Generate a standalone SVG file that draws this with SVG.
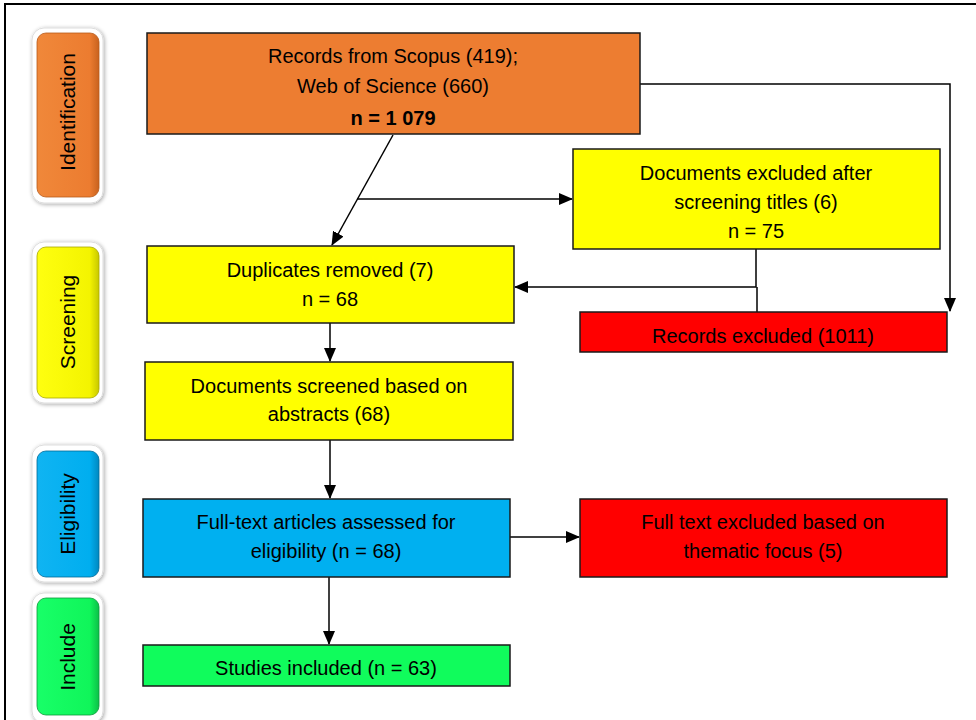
<svg xmlns="http://www.w3.org/2000/svg" width="976" height="720" viewBox="0 0 976 720">
<style>
.t{font-family:"Liberation Sans",Arial,sans-serif;font-size:20px;fill:#000;text-anchor:middle;dominant-baseline:central}
.p{font-size:21px}
.b{stroke:#1a1a1a;stroke-width:1.5}
.c{stroke:#000;stroke-width:1.5;fill:none}
.ph{fill:#fff;stroke:#ddd;stroke-width:1}
</style>
<defs>
<marker id="ah" markerWidth="14" markerHeight="12" refX="13" refY="6" orient="auto" markerUnits="userSpaceOnUse">
<path d="M0,0 L14,6 L0,12 z" fill="#000"/>
</marker>
<filter id="sh" x="-20%" y="-20%" width="140%" height="140%">
<feGaussianBlur in="SourceAlpha" stdDeviation="2"/>
<feOffset dx="1" dy="1" result="o"/>
<feComponentTransfer><feFuncA type="linear" slope="0.35"/></feComponentTransfer>
<feMerge><feMergeNode/><feMergeNode in="SourceGraphic"/></feMerge>
</filter>
<linearGradient id="go" x1="0" x2="1" y1="0" y2="0"><stop offset="0" stop-color="#f0883a"/><stop offset="0.85" stop-color="#ec7c30"/><stop offset="1" stop-color="#c8621e"/></linearGradient>
<linearGradient id="gy" x1="0" x2="1" y1="0" y2="0"><stop offset="0" stop-color="#ffff10"/><stop offset="0.85" stop-color="#f4f400"/><stop offset="1" stop-color="#c8c800"/></linearGradient>
<linearGradient id="gb" x1="0" x2="1" y1="0" y2="0"><stop offset="0" stop-color="#10b4f2"/><stop offset="0.85" stop-color="#00aeef"/><stop offset="1" stop-color="#0088c0"/></linearGradient>
<linearGradient id="gg" x1="0" x2="1" y1="0" y2="0"><stop offset="0" stop-color="#18ff68"/><stop offset="0.85" stop-color="#10f55a"/><stop offset="1" stop-color="#0cc048"/></linearGradient>
</defs>
<rect width="976" height="720" fill="#fff"/>
<rect x="5" y="4" width="990" height="730" fill="none" stroke="#000" stroke-width="2"/>

<g id="phase-identification">
<rect class="ph" x="32" y="28" width="71" height="175" rx="12" filter="url(#sh)"/>
<rect x="37" y="33" width="62" height="164" rx="9" fill="url(#go)" stroke="#b85a1a" stroke-width="0.8"/>
<text class="t p" transform="translate(67,112) rotate(-90)">Identification</text>
</g>
<g id="phase-screening">
<rect class="ph" x="32" y="242" width="71" height="161" rx="12" filter="url(#sh)"/>
<rect x="37" y="247" width="62" height="151" rx="9" fill="url(#gy)" stroke="#a8a800" stroke-width="0.8"/>
<text class="t p" transform="translate(67,322) rotate(-90)">Screening</text>
</g>
<g id="phase-eligibility">
<rect class="ph" x="32" y="445" width="71" height="137" rx="12" filter="url(#sh)"/>
<rect x="37" y="451" width="62" height="126" rx="9" fill="url(#gb)" stroke="#006a98" stroke-width="0.8"/>
<text class="t p" transform="translate(67,514) rotate(-90)">Eligibility</text>
</g>
<g id="phase-include">
<rect class="ph" x="32" y="593" width="71" height="130" rx="12" filter="url(#sh)"/>
<rect x="37" y="598" width="62" height="117" rx="9" fill="url(#gg)" stroke="#0a9a3a" stroke-width="0.8"/>
<text class="t p" transform="translate(67,657) rotate(-90)">Include</text>
</g>

<g id="connectors">
<line class="c" x1="393" y1="135" x2="332" y2="245" marker-end="url(#ah)"/>
<line class="c" x1="357" y1="199" x2="572" y2="199" marker-end="url(#ah)"/>
<polyline class="c" points="640,84 950,84 950,311" marker-end="url(#ah)"/>
<polyline class="c" points="756,249 756,287 515,287" marker-end="url(#ah)"/>
<line class="c" x1="757" y1="287" x2="757" y2="312"/>
<line class="c" x1="330" y1="323" x2="330" y2="361" marker-end="url(#ah)"/>
<line class="c" x1="330" y1="440" x2="330" y2="498" marker-end="url(#ah)"/>
<line class="c" x1="510" y1="537" x2="579" y2="537" marker-end="url(#ah)"/>
<line class="c" x1="329" y1="577" x2="329" y2="644" marker-end="url(#ah)"/>
</g>

<g id="records">
<rect class="b" x="147" y="33" width="493" height="101" fill="#ed7d31"/>
<text class="t" x="393" y="56">Records from Scopus (419);</text>
<text class="t" x="393" y="86">Web of Science (660)</text>
<text class="t" x="393" y="118" font-weight="bold">n = 1 079</text>
</g>
<g id="excluded-titles">
<rect class="b" x="573" y="149" width="367" height="100" fill="#ffff00"/>
<text class="t" x="756" y="173">Documents excluded after</text>
<text class="t" x="756" y="202">screening titles (6)</text>
<text class="t" x="756" y="231">n = 75</text>
</g>
<g id="duplicates">
<rect class="b" x="147" y="246" width="367" height="77" fill="#ffff00"/>
<text class="t" x="330" y="270">Duplicates removed (7)</text>
<text class="t" x="330" y="299">n = 68</text>
</g>
<g id="records-excluded">
<rect class="b" x="580" y="312" width="367" height="40" fill="#ff0000"/>
<text class="t" x="763" y="336">Records excluded (1011)</text>
</g>
<g id="screened">
<rect class="b" x="145" y="362" width="368" height="78" fill="#ffff00"/>
<text class="t" x="329" y="386">Documents screened based on</text>
<text class="t" x="329" y="414">abstracts (68)</text>
</g>
<g id="fulltext">
<rect class="b" x="143" y="499" width="367" height="78" fill="#00b0f0"/>
<text class="t" x="326" y="522">Full-text articles assessed for</text>
<text class="t" x="326" y="551">eligibility (n = 68)</text>
</g>
<g id="fulltext-excluded">
<rect class="b" x="580" y="499" width="367" height="78" fill="#ff0000"/>
<text class="t" x="763" y="522">Full text excluded based on</text>
<text class="t" x="763" y="551">thematic focus (5)</text>
</g>
<g id="included">
<rect class="b" x="143" y="645" width="367" height="41" fill="#10fc5c"/>
<text class="t" x="326" y="668">Studies included (n = 63)</text>
</g>
</svg>
